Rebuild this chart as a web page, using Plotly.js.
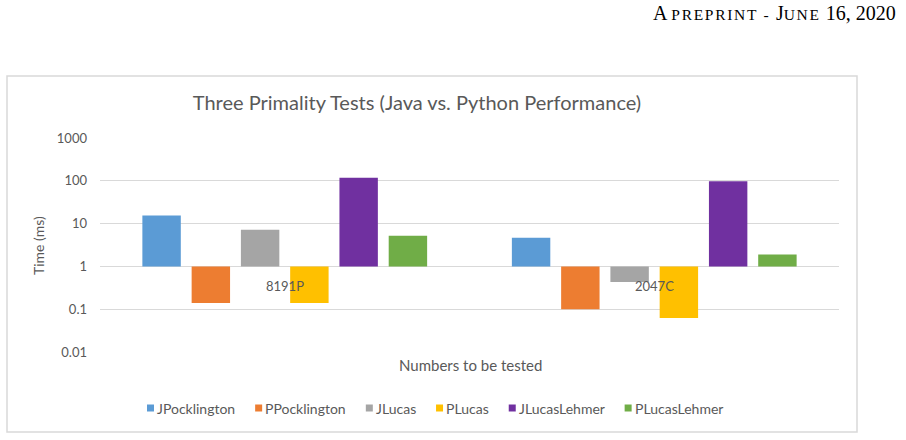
<!DOCTYPE html>
<html>
<head>
<meta charset="utf-8">
<script src="https://cdn.plot.ly/plotly-3.0.1.min.js"></script>
<style>
  html, body { margin: 0; padding: 0; background: #ffffff; }
  #chart { width: 906px; height: 440px; }
</style>
</head>
<body>
<div id="chart"></div>
<script>
// Numbers tested and the timing of each primality test (ms, log scale)
const categories = ['8191P', '2047C'];
const seriesNames = ['JPocklington', 'PPocklington', 'JLucas', 'PLucas', 'JLucasLehmer', 'PLucasLehmer'];
const jPocklington = [15.5, 4.7];
const pPocklington = [0.14, 0.10];
const jLucas = [7.2, 0.43];
const pLucas = [0.14, 0.062];
const jLucasLehmer = [118, 97];
const pLucasLehmer = [5.2, 1.9];
const tickValues = [0.01, 0.1, 1, 10, 100, 1000];
const tickLabels = ['0.01', '0.1', '1', '10', '100', '1000'];

const seriesValues = [jPocklington, pPocklington, jLucas, pLucas, jLucasLehmer, pLucasLehmer];
const colors = ['#5B9BD5', '#ED7D31', '#A5A5A5', '#FFC000', '#7030A0', '#70AD47'];

const FONT = 'Lato, "Noto Sans", sans-serif';
const GREY = '#595959';

// Bars grow from the value 1 (the axis crossing), up or down on the log scale
const traces = seriesNames.map((name, i) => ({
  type: 'bar',
  name: name,
  x: categories,
  base: 1,
  y: seriesValues[i].map(v => v - 1),
  marker: { color: colors[i], line: { width: 0 } },
  hoverinfo: 'name+x'
}));

// Plot-area geometry in pixels, used to place items outside it in paper units
const W = 906, H = 440;
const L = 100, R = 839, T = 138, B = 352;
const px = x => (x - L) / (R - L);
const py = y => (B - y) / (B - T);

const SC = 'font-size:15.5px;letter-spacing:1.7px';
const annotations = [
  // running header
  {
    text: 'A <span style="' + SC + '">PREPRINT - </span>J<span style="' + SC + '">UNE</span> 16, 2020',
    xref: 'paper', yref: 'paper', x: px(898), y: py(13),
    xanchor: 'right', yanchor: 'middle', showarrow: false,
    font: { family: '"Liberation Serif", "DejaVu Serif", serif', size: 20, color: '#000000' }
  },
  // axis titles
  {
    text: 'Time (ms)', textangle: -90,
    xref: 'paper', yref: 'paper', x: px(38), y: py(245),
    xanchor: 'center', yanchor: 'middle', showarrow: false,
    font: { family: FONT, size: 14, color: GREY }
  },
  {
    text: 'Numbers to be tested',
    xref: 'paper', yref: 'paper', x: px(470), y: py(365),
    xanchor: 'center', yanchor: 'middle', showarrow: false,
    font: { family: FONT, size: 15, color: GREY }
  }
].concat(categories.map(c => ({
  // category labels sit just under the crossing line at 1
  text: c, xref: 'x', yref: 'y', x: c, y: Math.log10(1),
  yanchor: 'top', yshift: -10, showarrow: false,
  font: { family: FONT, size: 13, color: GREY }
})));

const shapes = [{
  // outer chart frame
  type: 'rect', xref: 'paper', yref: 'paper',
  x0: px(7), x1: px(857), y0: py(432), y1: py(76),
  line: { color: '#d9d9d9', width: 1.5 }, fillcolor: 'rgba(0,0,0,0)', layer: 'below'
}];

// Legend row: small colour square followed by the series name, centred under the plot
const LEG_SIZE = 14, SQ = 7, SQ_GAP = 3, ITEM_GAP = 20, LEG_CX = 435, LEG_Y = 408;
const ctx = document.createElement('canvas').getContext('2d');
ctx.font = LEG_SIZE + 'px Lato';
const textW = seriesNames.map(n => ctx.measureText(n).width);
const legTotal = textW.reduce((s, w) => s + SQ + SQ_GAP + w, 0) + ITEM_GAP * (seriesNames.length - 1);
let cursor = LEG_CX - legTotal / 2;
seriesNames.forEach((name, i) => {
  shapes.push({
    type: 'rect', xref: 'paper', yref: 'paper',
    x0: px(cursor), x1: px(cursor + SQ), y0: py(LEG_Y + SQ / 2), y1: py(LEG_Y - SQ / 2),
    line: { width: 0 }, fillcolor: colors[i]
  });
  annotations.push({
    text: name, xref: 'paper', yref: 'paper',
    x: px(cursor + SQ + SQ_GAP), y: py(LEG_Y),
    xanchor: 'left', yanchor: 'middle', showarrow: false,
    borderpad: 0, borderwidth: 0,
    font: { family: FONT, size: LEG_SIZE, color: GREY }
  });
  cursor += SQ + SQ_GAP + textW[i] + ITEM_GAP;
});

const layout = {
  width: W, height: H,
  margin: { l: L, r: W - R, t: T, b: H - B, pad: 0 },
  paper_bgcolor: '#ffffff', plot_bgcolor: '#ffffff',
  font: { family: FONT, color: GREY },
  title: {
    text: 'Three Primality Tests (Java vs. Python Performance)',
    xref: 'container', yref: 'container', x: 417 / W, y: 1 - 103 / H,
    xanchor: 'center', yanchor: 'middle',
    font: { family: FONT, size: 20, color: GREY }
  },
  barmode: 'group', bargap: 0.2, bargroupgap: 0.22,
  showlegend: false,
  xaxis: {
    type: 'category', showticklabels: false, showgrid: false,
    zeroline: false, showline: false, ticks: ''
  },
  yaxis: {
    type: 'log', range: [-2, 3], tickmode: 'array',
    tickvals: tickValues, ticktext: tickLabels,
    showgrid: true, gridcolor: '#d9d9d9', gridwidth: 1,
    zeroline: false, showline: false, ticks: '',
    ticklabelstandoff: 12,
    tickfont: { family: FONT, size: 13, color: GREY }
  },
  annotations: annotations,
  shapes: shapes
};

Plotly.newPlot('chart', traces, layout, { displayModeBar: false, staticPlot: true });
</script>
</body>
</html>
